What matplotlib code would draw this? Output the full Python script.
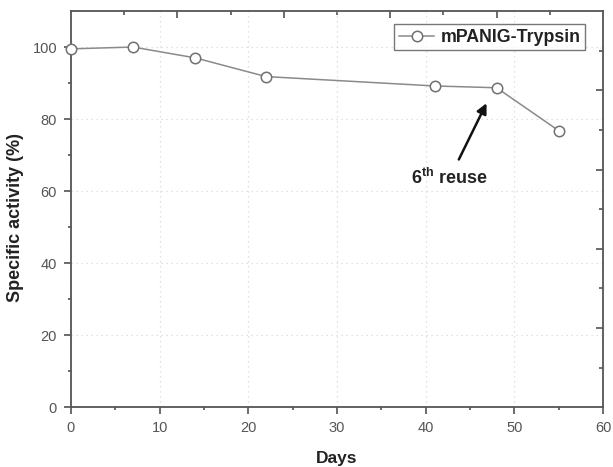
import matplotlib
matplotlib.use("Agg")
import matplotlib.pyplot as plt
from matplotlib.ticker import MultipleLocator, FixedLocator

plt.rcParams['font.family'] = ['Liberation Sans', 'DejaVu Sans']
plt.rcParams['mathtext.fontset'] = 'custom'
plt.rcParams['mathtext.rm'] = 'Liberation Sans:bold'

# storage stability data
days = [0, 7, 14, 22, 41, 48, 55]
activity = [99.5, 100, 97, 91.8, 89.2, 88.7, 76.8]
series_name = 'mPANIG-Trypsin'

fig = plt.figure(figsize=(6.13, 4.67), dpi=100)
ax = fig.add_axes([0.1158, 0.1278, 0.8679, 0.8486])

ax.plot(days, activity, color='#8a8a8a', lw=1.1, marker='o', markersize=7.5,
        markerfacecolor='white', markeredgecolor='#707070', markeredgewidth=1.1,
        label=series_name, clip_on=False, zorder=3)

ax.set_xlim(0, 60)
ax.set_ylim(0, 110)
ax.xaxis.set_major_locator(MultipleLocator(10))
ax.xaxis.set_minor_locator(MultipleLocator(5))
ax.yaxis.set_major_locator(FixedLocator([0, 20, 40, 60, 80, 100]))
ax.yaxis.set_minor_locator(FixedLocator([10, 30, 50, 70, 90]))
ax.tick_params(which='major', direction='out', length=5, width=1.1, pad=5,
               labelsize=10.5, labelcolor='#555555', color='#444444')
ax.tick_params(which='minor', direction='out', length=2.5, width=1.1, color='#444444')
for s in ax.spines.values():
    s.set_color('#555555')
    s.set_linewidth(1.3)

ax.grid(True, which='major', linestyle=(0, (1, 3)), color='#d8d8d8', lw=0.9)

# top and right axes carry their own tick spacing
top = ax.secondary_xaxis('top')
top.xaxis.set_major_locator(FixedLocator([12, 24, 36, 48]))
top.xaxis.set_minor_locator(FixedLocator([6, 18, 30, 42, 54]))
top.tick_params(which='major', direction='in', length=5, width=1.1, labeltop=False, color='#444444')
top.tick_params(which='minor', direction='in', length=3, width=1.1, color='#444444')
top.spines['top'].set_visible(False)
right = ax.secondary_yaxis('right')
right.yaxis.set_major_locator(FixedLocator([22, 44, 66, 88]))
right.yaxis.set_minor_locator(FixedLocator([11, 33, 55, 77, 99]))
right.tick_params(which='major', direction='in', length=5, width=1.1, labelright=False, color='#444444')
right.tick_params(which='minor', direction='in', length=3, width=1.1, color='#444444')
right.spines['right'].set_visible(False)

ax.set_xlabel('Days', fontsize=12.5, fontweight='bold', color='#222222')
ax.set_ylabel('Specific activity (%)', fontsize=13, fontweight='bold', color='#222222')
ax.xaxis.set_label_coords(0.5, -0.111)
ax.yaxis.set_label_coords(-0.088, 0.48)

leg = ax.legend(loc='upper right', bbox_to_anchor=(0.973, 0.975), frameon=True, fancybox=False,
                prop={'weight': 'bold', 'size': 12.8}, handlelength=2.0,
                borderpad=0.25, handletextpad=0.35, borderaxespad=0.2)
leg.get_frame().set_edgecolor('#555555')
leg.get_frame().set_linewidth(1.0)
for t in leg.get_texts():
    t.set_color('#222222')

ax.annotate('', xy=(47.0, 85.1), xytext=(43.6, 68.1),
            arrowprops=dict(arrowstyle='-|>,head_length=0.6,head_width=0.3', color='#111111', lw=1.8))
ax.text(42.7, 62.0, r'6$^{\mathrm{th}}$ reuse', fontsize=13, fontweight='bold',
        color='#222222', ha='center', va='baseline')

fig.savefig('out.png', dpi=100)
